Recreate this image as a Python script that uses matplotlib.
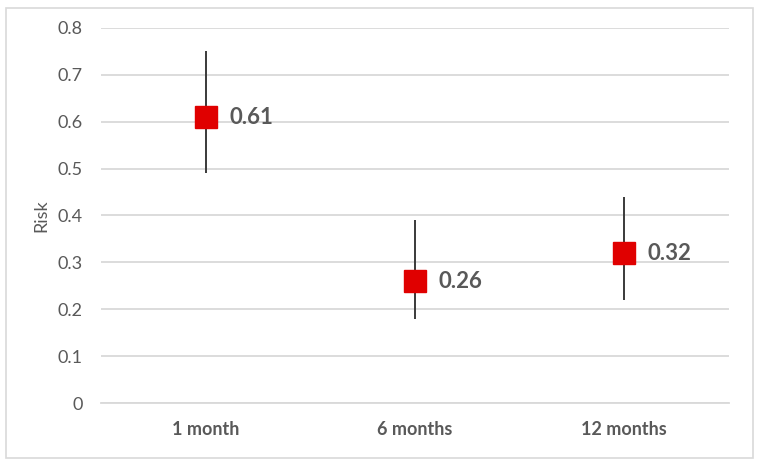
import matplotlib
matplotlib.use("Agg")
import matplotlib.pyplot as plt
from matplotlib.patches import Rectangle

categories = ["1 month", "6 months", "12 months"]
risk = [0.61, 0.26, 0.32]
lower = [0.49, 0.18, 0.22]
upper = [0.75, 0.39, 0.44]
yticks = [0, 0.1, 0.2, 0.3, 0.4, 0.5, 0.6, 0.7, 0.8]

plt.rcParams['font.family'] = ['Lato', 'DejaVu Sans']

fig = plt.figure(figsize=(7.64, 4.66), dpi=100)
ax = fig.add_axes([101/764, 63/466, 628/764, 375/466])

x = list(range(len(categories)))
yerr = [[r - l for r, l in zip(risk, lower)], [u - r for r, u in zip(risk, upper)]]
ax.errorbar(x, risk, yerr=yerr, fmt='none', ecolor='#3a3a3a', elinewidth=1.4, capsize=0, zorder=3)
ax.plot(x, risk, linestyle='none', marker='s', markersize=16, color='#e00000', zorder=4)
for xi, r in zip(x, risk):
    ax.annotate(f"{r:.2f}", (xi, r), xytext=(17, 0), textcoords='offset points',
                ha='left', va='center', fontsize=16, fontweight='bold', color='#595959', zorder=5)

ax.set_xlim(-0.5, len(categories) - 0.5)
ax.set_ylim(0, 0.8)
ax.set_yticks(yticks)
ax.set_yticklabels([f"{t:g}" for t in yticks])
ax.set_xticks(x)
ax.set_xticklabels(categories, fontweight='bold')
ax.tick_params(axis='both', length=0, labelsize=13, colors='#595959')
ax.tick_params(axis='y', pad=13)
ax.tick_params(axis='x', pad=13)
ax.grid(axis='y', color='#d9d9d9', linewidth=1.3, zorder=0)
ax.set_axisbelow(True)
for s in ['top', 'right', 'left']:
    ax.spines[s].set_visible(False)
ax.spines['bottom'].set_color('#d9d9d9')
ax.spines['bottom'].set_linewidth(1.3)
ax.set_ylabel("Risk", fontsize=13, color='#595959', labelpad=6)

fig.patches.append(Rectangle((6/764, 8/466), 747/764, 450/466, transform=fig.transFigure,
                             fill=False, edgecolor='#d9d9d9', linewidth=1.2))

fig.savefig("out.png", dpi=100)
